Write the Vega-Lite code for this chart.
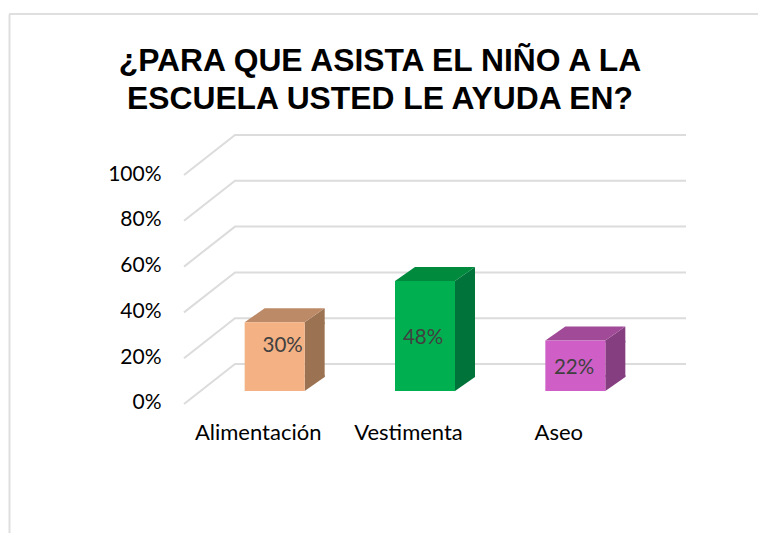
{
"$schema":"https://vega.github.io/schema/vega-lite/v6.json",
"width":749,"height":519,
"autosize":{"type":"none"},
"padding":{"left":9,"top":14,"right":0,"bottom":0},
"background":"white",
"config":{"view":{"stroke":null}},
"title":{"text":["¿PARA QUE ASISTA EL NIÑO A LA","ESCUELA USTED LE AYUDA EN?"],"font":"Liberation Sans","fontSize":31.8,"fontWeight":"bold","color":"#000000","anchor":"middle","frame":"group","lineHeight":38.5,"dx":-3.5,"dy":103,"baseline":"top","offset":0},
"data":{"values":[
{"categoria":"Alimentación","valor":0.30},
{"categoria":"Vestimenta","valor":0.48},
{"categoria":"Aseo","valor":0.22}
]},
"layer":[
{"data":{"values":[{"tick":0},{"tick":0.2},{"tick":0.4},{"tick":0.6},{"tick":0.8},{"tick":1}]},
 "mark":{"type":"point","shape":"M-1.02 0.8L0 0L9.02 0","size":10000,"filled":false,"stroke":"#dcdcdc","strokeWidth":2,"opacity":1},
 "encoding":{
  "x":{"datum":"Alimentación","type":"nominal","bandPosition":0,"scale":{"domain":["Alimentación","Vestimenta","Aseo"],"range":[226,677],"paddingInner":0,"paddingOuter":0},
   "axis":{"orient":"bottom","title":null,"domain":false,"ticks":false,"grid":false,"labelAngle":0,"labelFont":"Lato","labelFontSize":22,"labelColor":"#000000","labelOffset":-52,"labelPadding":0,"offset":-111,"labelBaseline":"top","encoding":{"labels":{"update":{"dx":{"signal":"datum.value==='Aseo'?-5:0"}}}}}},
  "y":{"field":"tick","type":"quantitative","scale":{"domain":[-0.738,1.5284],"nice":false,"zero":false},
   "axis":{"orient":"left","title":null,"values":[0,0.2,0.4,0.6,0.8,1],"format":".0%","grid":false,"ticks":false,"domain":true,"domainColor":"#dfdfdf","domainWidth":2,"labelFont":"Lato","labelFontSize":21,"labelColor":"#000000","labelPadding":-152,"labelOffset":39}}
 }},
{"data":{"values":[{"limite":1.5284}]},
 "mark":{"type":"rule","stroke":"#dfdfdf","strokeWidth":2},
 "encoding":{"y":{"field":"limite","type":"quantitative"}}},
{"mark":{"type":"bar","size":20,"xOffset":4.5,"yOffset":27,"y2Offset":13},
 "encoding":{
  "x":{"field":"categoria","type":"nominal"},
  "y":{"field":"valor","type":"quantitative","stack":null},
  "y2":{"datum":0},
  "fill":{"field":"categoria","type":"nominal","legend":null,"scale":{"domain":["Alimentación","Vestimenta","Aseo"],"range":["#9c7352","#00733a","#853f80"]}}
 }},
{"mark":{"type":"point","shape":"M0.6 0L1 -0.28L1 0.04L0.6 0.04Z","size":10000,"filled":true,"opacity":1,"strokeWidth":0,"xOffset":-35.5,"yOffset":27},
 "encoding":{
  "x":{"field":"categoria","type":"nominal"},
  "y":{"field":"valor","type":"quantitative"},
  "fill":{"field":"categoria","type":"nominal","legend":null,"scale":{"domain":["Alimentación","Vestimenta","Aseo"],"range":["#9c7352","#00733a","#853f80"]}}
 }},
{"mark":{"type":"point","shape":"M0.6 0L1 -0.28L1 -0.32L0.6 -0.32Z","size":10000,"filled":true,"opacity":1,"strokeWidth":0,"xOffset":-35.5,"yOffset":27},
 "encoding":{
  "x":{"field":"categoria","type":"nominal"},
  "y":{"datum":0},
  "fill":{"field":"categoria","type":"nominal","legend":null,"scale":{"domain":["Alimentación","Vestimenta","Aseo"],"range":["#9c7352","#00733a","#853f80"]}}
 }},
{"mark":{"type":"point","shape":"M-0.6 0L0.6 0L1 -0.28L-0.2 -0.28Z","size":10000,"filled":true,"opacity":1,"strokeWidth":0,"xOffset":-35.5,"yOffset":27},
 "encoding":{
  "x":{"field":"categoria","type":"nominal"},
  "y":{"field":"valor","type":"quantitative"},
  "fill":{"field":"categoria","type":"nominal","legend":null,"scale":{"domain":["Alimentación","Vestimenta","Aseo"],"range":["#bd8a68","#008a3e","#a04a98"]}}
 }},
{"mark":{"type":"bar","size":60,"xOffset":-35.5,"yOffset":27,"y2Offset":27},
 "encoding":{
  "x":{"field":"categoria","type":"nominal"},
  "y":{"field":"valor","type":"quantitative","stack":null},
  "y2":{"datum":0},
  "fill":{"field":"categoria","type":"nominal","legend":null,"scale":{"domain":["Alimentación","Vestimenta","Aseo"],"range":["#f4b183","#00b050","#cf5fc6"]}}
 }},
{"transform":[{"filter":"datum.categoria==='Alimentación'"}],
 "mark":{"type":"text","font":"Lato","fontSize":20.5,"color":"#404040","xOffset":-27.5,"yOffset":50.7},
 "encoding":{"x":{"field":"categoria","type":"nominal"},"y":{"field":"valor","type":"quantitative"},"text":{"field":"valor","type":"quantitative","format":".0%"}}},
{"transform":[{"filter":"datum.categoria==='Vestimenta'"}],
 "mark":{"type":"text","font":"Lato","fontSize":20.5,"color":"#404040","xOffset":-37.5,"yOffset":83.9},
 "encoding":{"x":{"field":"categoria","type":"nominal"},"y":{"field":"valor","type":"quantitative"},"text":{"field":"valor","type":"quantitative","format":".0%"}}},
{"transform":[{"filter":"datum.categoria==='Aseo'"}],
 "mark":{"type":"text","font":"Lato","fontSize":20.5,"color":"#404040","xOffset":-36.8,"yOffset":54},
 "encoding":{"x":{"field":"categoria","type":"nominal"},"y":{"field":"valor","type":"quantitative"},"text":{"field":"valor","type":"quantitative","format":".0%"}}}
],
"resolve":{"scale":{"fill":"independent"}}
}
